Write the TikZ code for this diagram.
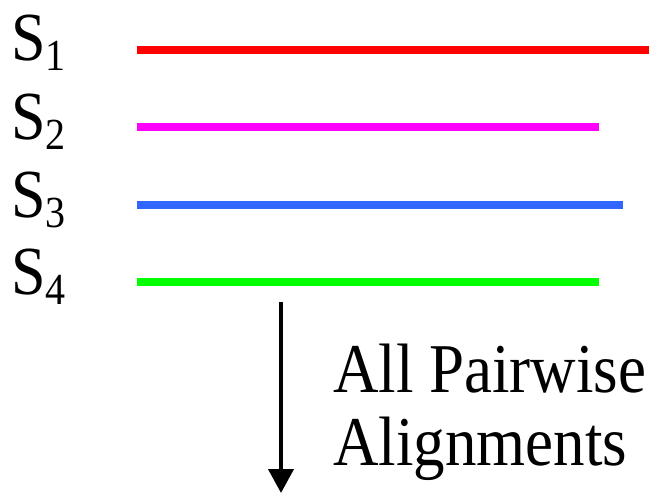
\documentclass[tikz,border=0pt]{standalone}
\usepackage{fontspec}
\setmainfont{Liberation Serif}
\usetikzlibrary{arrows.meta}
\definecolor{sred}{HTML}{FF0000}
\definecolor{smag}{HTML}{FF00FF}
\definecolor{sblue}{HTML}{3366FF}
\definecolor{sgreen}{HTML}{00FF00}
\newcommand{\tall}[1]{\scalebox{1}[1.11]{#1}}
\newcommand{\seqlab}[1]{\tall{S\raisebox{-9.5pt}{\fontsize{40}{40}\selectfont #1}}}
\begin{document}
\begin{tikzpicture}[x=1pt,y=-1pt,
  seqline/.style={line width=8pt},
  lab/.style={anchor=base west,inner sep=0pt,font=\fontsize{62}{62}\selectfont},
  txt/.style={anchor=base west,inner sep=0pt,font=\fontsize{63}{63}\selectfont}]
\useasboundingbox (0,0) rectangle (653,493);
\node[lab] (l1) at (11,60) {\seqlab{1}};
\node[lab] (l2) at (11,139) {\seqlab{2}};
\node[lab] (l3) at (11,217) {\seqlab{3}};
\node[lab] (l4) at (11,294) {\seqlab{4}};
\coordinate (a1) at (137,50); \coordinate (b1) at (649,50);
\coordinate (a2) at (137,127); \coordinate (b2) at (599,127);
\coordinate (a3) at (137,205); \coordinate (b3) at (623,205);
\coordinate (a4) at (137,282); \coordinate (b4) at (599,282);
\draw[seqline,sred] (a1) -- (b1);
\draw[seqline,smag] (a2) -- (b2);
\draw[seqline,sblue] (a3) -- (b3);
\draw[seqline,sgreen] (a4) -- (b4);
\coordinate (t0) at (281,302);
\coordinate (t1) at (281,493);
\draw[line width=4pt,-{Triangle[width=25pt,length=24pt]}] (t0) -- (t1);
\node[txt] (p1) at (333,392) {\tall{All Pairwise}};
\node[txt] (p2) at (333,465) {\tall{Alignments}};
\end{tikzpicture}
\end{document}
